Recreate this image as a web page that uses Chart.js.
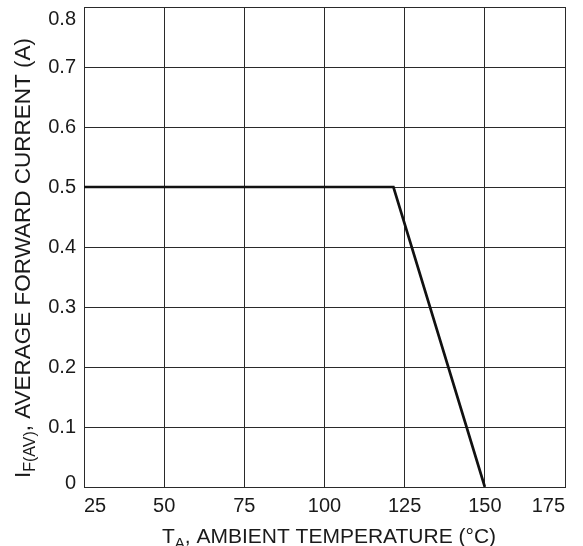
<!DOCTYPE html>
<html lang="en">
  <head>
    <meta charset="utf-8" />
    <title>Derating curve</title>
    <style>
      body {
        margin: 0;
        background-color: white;
      }
    </style>
  </head>
  <body>
    <canvas id="chart" width="583" height="546"></canvas>
    <script src="https://cdn.jsdelivr.net/npm/chart.js"></script>
    <script>
      // curve
      const tempC = [25, 121.5, 150];
      const currentA = [0.5, 0.5, 0];

      const xTicks = [25, 50, 75, 100, 125, 150, 175];
      const yTicks = [0, 0.1, 0.2, 0.3, 0.4, 0.5, 0.6, 0.7, 0.8];

      const FONT = "'Liberation Sans', Arial, sans-serif";
      const INK = "#1a1a1a";
      const GRID = "#2a2a2a";

      // axis titles have subscripts, so draw them by hand
      const titles = {
        id: "titles",
        afterDraw(chart) {
          const ctx = chart.ctx;

          const drawParts = (parts, cx, baseY, size) => {
            const big = size + "px " + FONT;
            const small = Math.round(size * 0.7) + "px " + FONT;
            let w = 0;
            parts.forEach((p) => {
              ctx.font = p.sub ? small : big;
              w += ctx.measureText(p.t).width;
            });
            let x = cx - w / 2;
            parts.forEach((p) => {
              ctx.font = p.sub ? small : big;
              ctx.fillText(p.t, x, baseY + (p.sub ? 5 : 0));
              x += ctx.measureText(p.t).width;
            });
          };

          ctx.save();
          ctx.fillStyle = INK;
          ctx.textAlign = "left";
          ctx.textBaseline = "alphabetic";

          drawParts(
            [
              { t: "T" },
              { t: "A", sub: true },
              { t: ", AMBIENT TEMPERATURE (°C)" },
            ],
            329,
            543,
            21
          );

          ctx.translate(30, 258);
          ctx.rotate(-Math.PI / 2);
          drawParts(
            [
              { t: "I" },
              { t: "F(AV)", sub: true },
              { t: ", AVERAGE FORWARD CURRENT (A)" },
            ],
            0,
            0,
            22.5
          );
          ctx.restore();
        },
      };

      // end labels of the y axis sit inside the box, nudged with an empty line
      const yLabel = (v) => {
        if (v === 0) return ["0", ""];
        if (v >= 0.8) return ["", v.toFixed(1)];
        return v.toFixed(1);
      };

      new Chart(document.getElementById("chart"), {
        type: "scatter",
        data: {
          datasets: [
            {
              data: tempC.map((t, i) => ({ x: t, y: currentA[i] })),
              showLine: true,
              borderColor: "#111",
              borderWidth: 2.7,
              pointRadius: 0,
            },
          ],
        },
        options: {
          responsive: false,
          animation: false,
          layout: { padding: { top: 7, right: 18, left: 0, bottom: 0 } },
          plugins: { legend: { display: false }, tooltip: { enabled: false } },
          scales: {
            x: {
              type: "linear",
              min: 25,
              max: 175,
              afterFit: (s) => {
                s.height = 59;
                s.paddingLeft = 0;
                s.paddingRight = 0;
              },
              afterBuildTicks: (s) => {
                s.ticks = xTicks.map((v) => ({ value: v }));
              },
              ticks: {
                color: INK,
                font: { family: FONT, size: 20 },
                padding: 7,
                maxRotation: 0,
                align: "inner",
              },
              grid: { color: GRID, lineWidth: 1, drawTicks: false },
              border: { color: GRID, width: 1 },
            },
            y: {
              min: 0,
              max: 0.8,
              afterFit: (s) => {
                s.width = 84;
                s.paddingTop = 0;
                s.paddingBottom = 0;
              },
              afterBuildTicks: (s) => {
                s.ticks = yTicks.map((v) => ({ value: v }));
              },
              ticks: {
                color: INK,
                font: (c) =>
                  c.tick && c.tick.value === 0
                    ? { family: FONT, size: 20, lineHeight: "8px" }
                    : { family: FONT, size: 20, lineHeight: "24px" },
                padding: 8,
                callback: yLabel,
              },
              grid: { color: GRID, lineWidth: 1, drawTicks: false },
              border: { color: GRID, width: 1 },
            },
          },
        },
        plugins: [titles],
      });
    </script>
  </body>
</html>
